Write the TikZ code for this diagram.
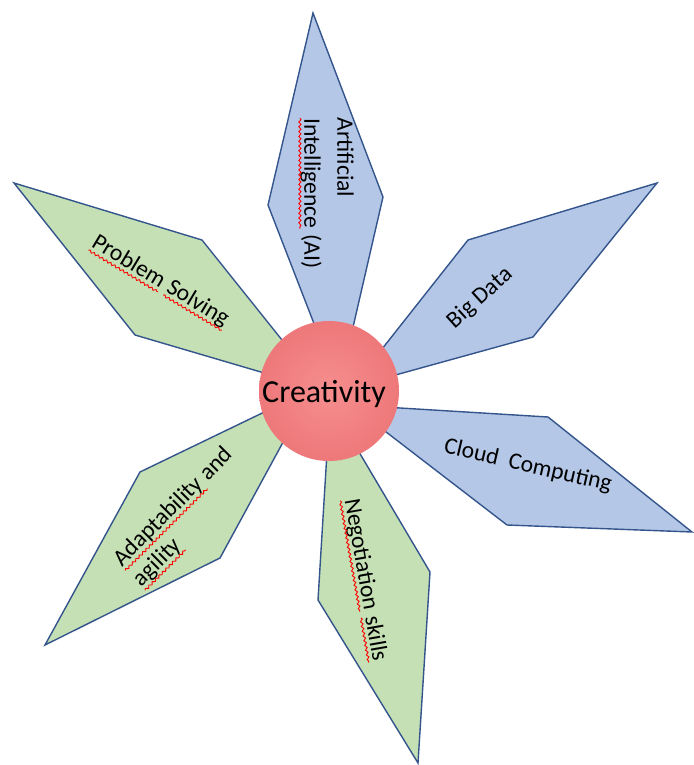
\documentclass[tikz,border=0pt]{standalone}
\usepackage{fontspec}
\setmainfont{Carlito}
\usepackage{tikz}
\usetikzlibrary{positioning,shadings,decorations.pathmorphing}
\usepackage{xcolor}
\definecolor{petalblue}{RGB}{180,199,231}
\definecolor{petalgreen}{RGB}{197,224,180}
\definecolor{petaledge}{RGB}{52,84,140}
\definecolor{crelight}{RGB}{246,142,142}
\definecolor{credark}{RGB}{238,120,122}

% red wavy underline (spell-check marks)
\newcommand\spellwave[1]{\tikz[baseline=(w.base)]{%
    \node[inner sep=0pt, outer sep=0pt] (w) {#1};
    \draw[red, line width=0.45pt, decorate,
          decoration={snake, amplitude=0.55pt, segment length=2.4pt}]
        ([yshift=-2.2pt]w.base west) -- ([yshift=-2.2pt]w.base east);}}

\begin{document}
\begin{tikzpicture}[
    x=0.5pt, y=-0.5pt,
    petal/.style={draw=petaledge, line width=0.7pt, line join=miter},
    bluepetal/.style={petal, fill=petalblue},
    greenpetal/.style={petal, fill=petalgreen},
    label/.style={font=\fontsize{11.8}{14}\selectfont, inner sep=1pt, text=black}
]
\useasboundingbox (0,0) rectangle (693,765);

% Petals (inner tips hidden under the hub)
\path[bluepetal]  (339,388) -- (268,205) -- (313,13)  -- (383,197) -- cycle;
\path[bluepetal]  (352,387) -- (468,240) -- (657,183) -- (533,337) -- cycle;
\path[bluepetal]  (351,405) -- (548,417) -- (692,532) -- (507,525) -- cycle;
\path[greenpetal] (330,403) -- (430,572) -- (418,763) -- (318,600) -- cycle;
\path[greenpetal] (312,389) -- (220,558) -- (45,645)  -- (140,472) -- cycle;
\path[greenpetal] (322,390) -- (135,335) -- (14,183)  -- (202,240) -- cycle;

% Hub
\node[circle, minimum size=70pt, inner sep=0pt, inner color=crelight, outer color=credark]
    (cre) at (329,391) {};
\node[font=\fontsize{16}{18}\selectfont] (cretext) at (324,394) {Creativity};

% Labels
\node[label, rotate=-90, align=left, font=\fontsize{11.8}{16.5}\selectfont] (ai) at (326,193)
    {Artificial\\\spellwave{Intelligence} (AI)};
\node[label, rotate=42] (bigdata) at (480,298) {Big Data};
\node[label, rotate=-13] (cloud) at (528,466) {Cloud\ \ Computing};
\node[label, rotate=-80] (nego) at (364,580) {\spellwave{Negotiation} \spellwave{skills}};
\node[label, rotate=45, align=left] (adapt) at (184,518)
    {\spellwave{Adaptability} and\\\spellwave{agility}};
\node[label, rotate=-31] (probsolve) at (160,282) {\spellwave{Problem} \spellwave{Solving}};

\end{tikzpicture}
\end{document}
